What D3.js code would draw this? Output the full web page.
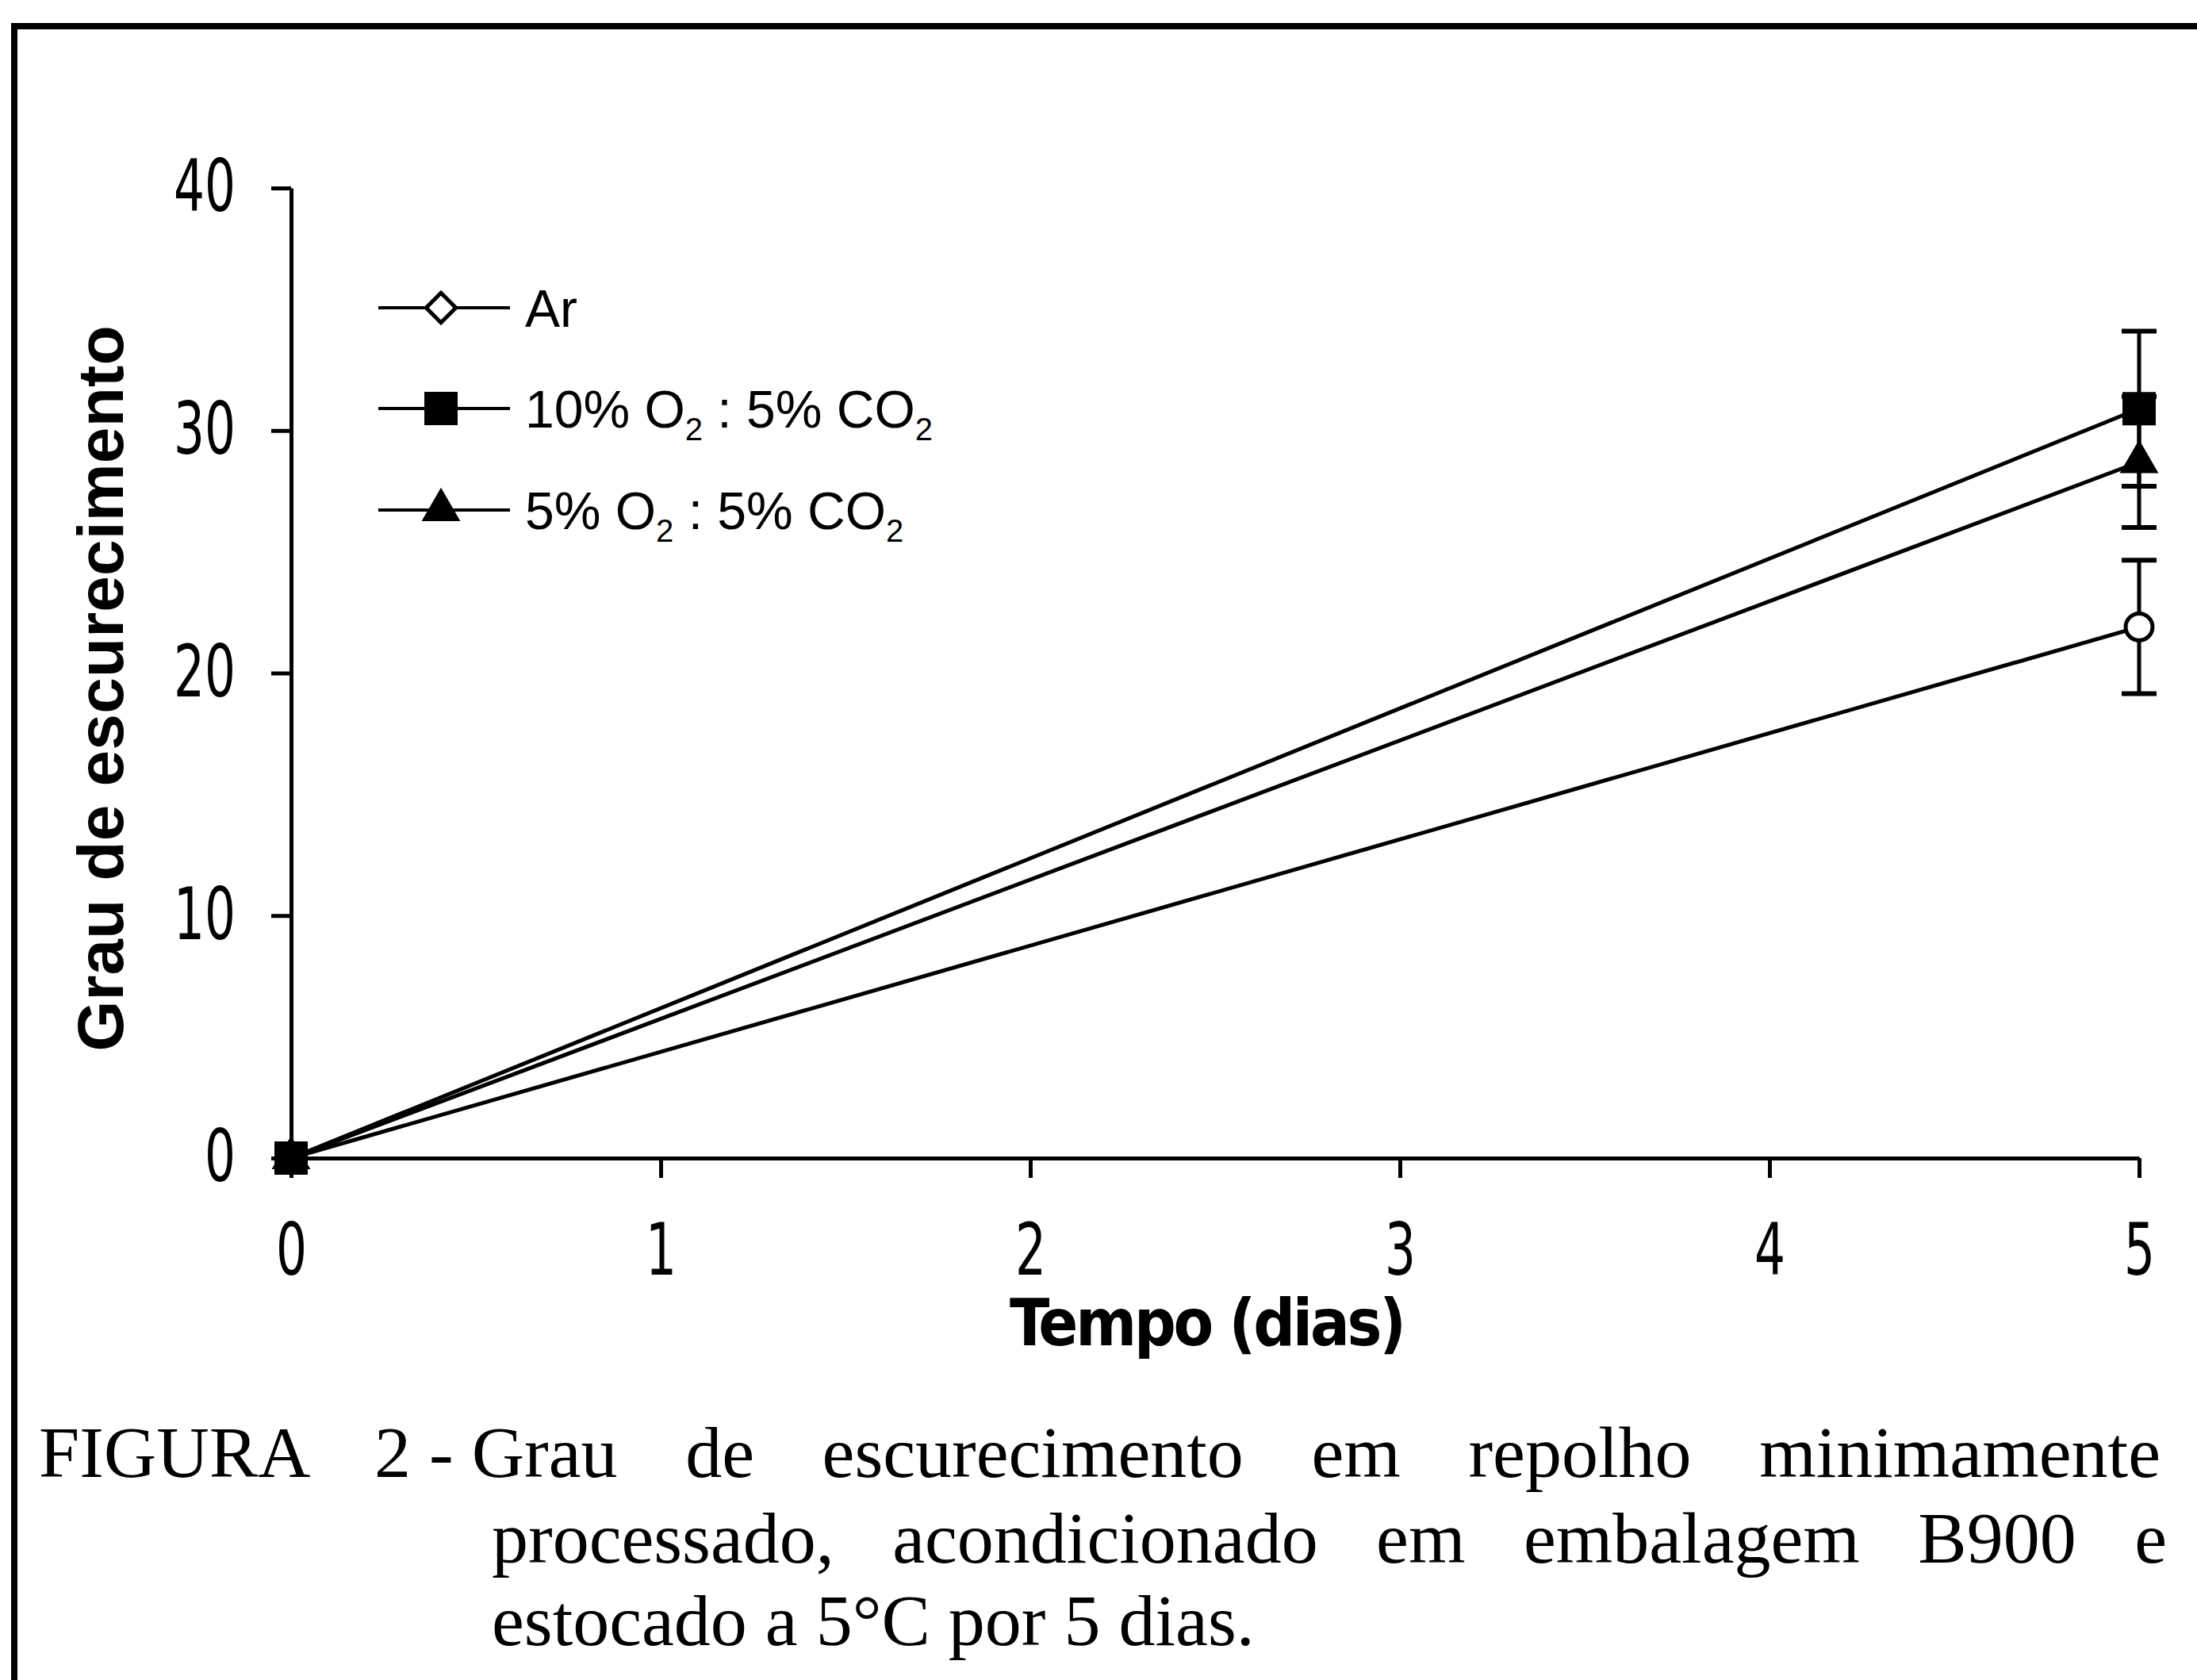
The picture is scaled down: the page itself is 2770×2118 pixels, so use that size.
<!DOCTYPE html>
<html>
<head>
<meta charset="utf-8">
<script src="https://cdn.jsdelivr.net/npm/d3@7"></script>
<style>
  html, body { margin: 0; padding: 0; background: #fff; }
  svg { display: block; }
</style>
</head>
<body>
<script>
// data
var days = [0, 5];
var arValues = [0, 21.9],   arErrors = [0, 2.75];
var o2tenValues = [0, 30.9], o2tenErrors = [0, 3.2];
var o2fiveValues = [0, 28.7], o2fiveErrors = [0, 2.7];
var seriesLabels = ["Ar", "10% O_2 : 5% CO_2", "5% O_2 : 5% CO_2"];
var xTicks = [0, 1, 2, 3, 4, 5];
var yTicks = [0, 10, 20, 30, 40];
var xTitle = "Tempo (dias)";
var yTitle = "Grau de escurecimento";
var captionLabel = "FIGURA";
var captionLine1 = ["2 - Grau", "de", "escurecimento", "em", "repolho", "minimamente"];
var captionLine2 = ["processado,", "acondicionado", "em", "embalagem", "B900", "e"];
var captionLine3 = "estocado a 5°C por 5 dias.";

var width = 2770, height = 2118;
var narrow = "'Liberation Sans Narrow', 'Arial Narrow', 'DejaVu Sans Condensed', sans-serif";

var series = [
    {label: seriesLabels[0], values: arValues, errors: arErrors, symbol: d3.symbolCircle, size: 900, fill: "#fff", legendSymbol: "diamond"},
    {label: seriesLabels[1], values: o2tenValues, errors: o2tenErrors, symbol: d3.symbolSquare, size: 1369, fill: "#000"},
    {label: seriesLabels[2], values: o2fiveValues, errors: o2fiveErrors, symbol: d3.symbolTriangle, size: 700, fill: "#000"}
];

var svg = d3.select("body").append("svg")
    .attr("width", width)
    .attr("height", height);

// frame round the figure (only top and left edges visible)
svg.append("line").attr("x1", 14).attr("x2", width).attr("y1", 33).attr("y2", 33)
    .attr("stroke", "#000").attr("stroke-width", 8);
svg.append("line").attr("x1", 18).attr("x2", 18).attr("y1", 29).attr("y2", height)
    .attr("stroke", "#000").attr("stroke-width", 8);

var x = d3.scaleLinear().domain([0, 5]).range([367, 2697]);
var y = d3.scaleLinear().domain([0, 40]).range([1460, 237]);

// axes
var yAxis = svg.append("g")
    .attr("transform", "translate(" + x(0) + ",0)")
    .call(d3.axisLeft(y).tickValues(yTicks).tickFormat(d3.format("d"))
        .tickSize(25).tickSizeOuter(0).tickPadding(45));
var xAxis = svg.append("g")
    .attr("transform", "translate(0," + y(0) + ")")
    .call(d3.axisBottom(x).tickValues(xTicks).tickFormat(d3.format("d"))
        .tickSize(25).tickSizeOuter(0).tickPadding(58));

[xAxis, yAxis].forEach(function(g) {
    g.select(".domain").attr("stroke-width", 5);
    g.selectAll(".tick line").attr("stroke-width", 5);
    g.selectAll(".tick text")
        .attr("font-family", narrow)
        .attr("font-size", 90)
        .attr("fill", "#000")
        // the original digits are very condensed
        .attr("textLength", function(d) { return String(d).length * 39; })
        .attr("lengthAdjust", "spacingAndGlyphs");
});

// axis titles
svg.append("text")
    .attr("x", 1523).attr("y", 1696)
    .attr("text-anchor", "middle")
    .attr("font-family", narrow)
    .attr("font-weight", "bold")
    .attr("font-size", 82)
    .attr("textLength", 500)
    .attr("lengthAdjust", "spacing")
    .text(xTitle);

svg.append("text")
    .attr("transform", "translate(155,868) rotate(-90)")
    .attr("text-anchor", "middle")
    .attr("font-family", "'Liberation Sans', Arial, sans-serif")
    .attr("font-weight", "bold")
    .attr("font-size", 82)
    .attr("textLength", 915)
    .attr("lengthAdjust", "spacing")
    .text(yTitle);

// lines
var line = d3.line()
    .x(function(d) { return x(d.day); })
    .y(function(d) { return y(d.value); });

series.forEach(function(s) {
    var pts = days.map(function(d, i) { return {day: d, value: s.values[i], err: s.errors[i]}; });
    s.points = pts;
    svg.append("path")
        .datum(pts)
        .attr("d", line)
        .attr("fill", "none")
        .attr("stroke", "#000")
        .attr("stroke-width", 5);
});

// error bars
series.forEach(function(s) {
    var bars = svg.append("g").selectAll("g")
        .data(s.points.filter(function(p) { return p.err > 0; }))
        .enter().append("g");
    bars.append("line")
        .attr("x1", function(d) { return x(d.day); })
        .attr("x2", function(d) { return x(d.day); })
        .attr("y1", function(d) { return y(d.value + d.err); })
        .attr("y2", function(d) { return y(d.value - d.err); })
        .attr("stroke", "#000").attr("stroke-width", 5);
    [1, -1].forEach(function(sign) {
        bars.append("line")
            .attr("x1", function(d) { return x(d.day) - 22; })
            .attr("x2", function(d) { return x(d.day) + 22; })
            .attr("y1", function(d) { return y(d.value + sign * d.err); })
            .attr("y2", function(d) { return y(d.value + sign * d.err); })
            .attr("stroke", "#000").attr("stroke-width", 6);
    });
});

// markers
series.forEach(function(s) {
    svg.append("g").selectAll("path")
        .data(s.points)
        .enter().append("path")
        .attr("transform", function(d) { return "translate(" + x(d.day) + "," + y(d.value) + ")"; })
        .attr("d", d3.symbol().type(s.symbol).size(s.size))
        .attr("fill", s.fill)
        .attr("stroke", "#000")
        .attr("stroke-width", 5);
});

// legend
var legendY = [388, 515, 643];
var legend = svg.append("g").selectAll("g")
    .data(series)
    .enter().append("g")
    .attr("transform", function(d, i) { return "translate(0," + legendY[i] + ")"; });

legend.append("line")
    .attr("x1", 477).attr("x2", 643)
    .attr("stroke", "#000").attr("stroke-width", 4);

legend.append("path")
    .attr("transform", function(d) {
        return "translate(556,0)" + (d.legendSymbol === "diamond" ? " rotate(45)" : "");
    })
    .attr("d", function(d) {
        if (d.legendSymbol === "diamond") return d3.symbol().type(d3.symbolSquare).size(700)();
        return d3.symbol().type(d.symbol).size(d.size)();
    })
    .attr("fill", function(d) { return d.fill; })
    .attr("stroke", "#000")
    .attr("stroke-width", 5);

legend.append("text")
    .attr("x", 662)
    .attr("y", 24)
    .attr("font-family", "'Liberation Sans', Arial, sans-serif")
    .attr("font-size", 66)
    .each(function(d) {
        var t = d3.select(this);
        d.label.split("_2").forEach(function(part, i, arr) {
            t.append("tspan").attr("dy", i === 0 ? 0 : -16).attr("font-size", 66).text(part);
            if (i < arr.length - 1) {
                t.append("tspan").attr("dy", 16).attr("font-size", 40).text("2");
            }
        });
    });

// caption
var serif = "'Liberation Serif', 'Times New Roman', serif";
var capSize = 92;
var caption = svg.append("g")
    .attr("font-family", serif)
    .attr("font-size", capSize)
    .attr("fill", "#000");

caption.append("text").attr("x", 49).attr("y", 1862).text(captionLabel);

function justify(words, x0, x1, baseline) {
    var nodes = caption.append("g").selectAll("text")
        .data(words)
        .enter().append("text")
        .attr("y", baseline)
        .attr("xml:space", "preserve")
        .text(function(d) { return d; });
    var widths = [];
    nodes.each(function() { widths.push(this.getComputedTextLength()); });
    var gap = (x1 - x0 - d3.sum(widths)) / (words.length - 1);
    var pos = x0;
    nodes.attr("x", function(d, i) {
        var p = pos;
        pos += widths[i] + gap;
        return p;
    });
}

justify(captionLine1, 472, 2724, 1862);
justify(captionLine2, 620, 2732, 1970);
caption.append("text").attr("x", 620).attr("y", 2074).text(captionLine3);
</script>
</body>
</html>
